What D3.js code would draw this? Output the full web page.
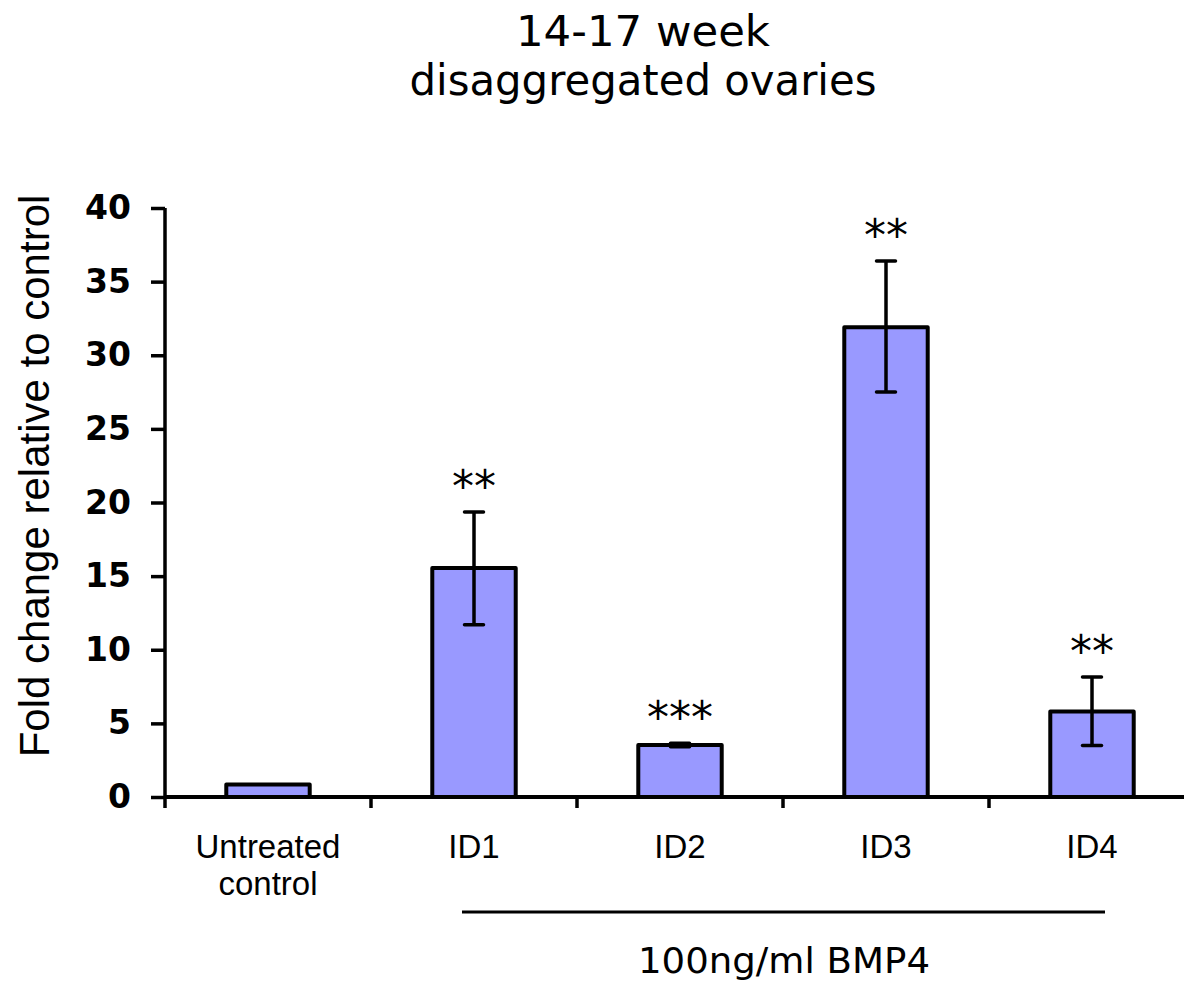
<!DOCTYPE html>
<html><head><meta charset="utf-8">
<script src="https://cdn.jsdelivr.net/npm/d3@7"></script>
<style>body{margin:0;background:#fff}</style>
</head><body>
<svg id="c" width="1184" height="981"></svg>
<script>
const categories = ["Untreated control", "ID1", "ID2", "ID3", "ID4"];
const values = [0.85, 15.55, 3.53, 31.9, 5.8];
const errLow = [null, 11.7, 3.42, 27.5, 3.5];
const errHigh = [null, 19.35, 3.65, 36.4, 8.15];
const stars = ["", "**", "***", "**", "**"];
const yTicks = [0, 5, 10, 15, 20, 25, 30, 35, 40];
const titleLines = ["14-17 week", "disaggregated ovaries"];
const yLabel = "Fold change relative to control";
const bracketLabel = "100ng/ml BMP4";

const svg = d3.select("#c");
const x0 = 165, yBase = 797;
const x = d3.scaleBand().domain(categories).range([x0, x0 + 206 * 5]).padding(0);
const y = d3.scaleLinear().domain([0, 40]).range([yBase, 208]);
const barW = x.bandwidth() * 0.405;

// title
const titleLen = [254, 467];
svg.append("g").selectAll("text").data(titleLines).join("text")
  .attr("x", 643).attr("y", (d, i) => 46 + i * 49)
  .attr("text-anchor", "middle")
  .attr("textLength", (d, i) => titleLen[i]).attr("lengthAdjust", "spacingAndGlyphs")
  .style("font-family", "DejaVu Sans").style("font-size", "43px").style("fill", "#000")
  .text(d => d);

// bars
svg.append("g").selectAll("rect").data(categories).join("rect")
  .attr("x", d => x(d) + x.bandwidth() / 2 - barW / 2)
  .attr("y", (d, i) => y(values[i]))
  .attr("width", barW)
  .attr("height", (d, i) => yBase - y(values[i]))
  .attr("fill", "#9999ff").attr("stroke", "#000").attr("stroke-width", 4)
  .attr("stroke-linejoin", "round");

// error bars
const eg = svg.append("g");
categories.forEach((c, i) => {
  if (errLow[i] == null) return;
  const cx = x(c) + x.bandwidth() / 2;
  eg.append("line").attr("x1", cx).attr("x2", cx).attr("y1", y(errLow[i])).attr("y2", y(errHigh[i]))
    .attr("stroke", "#000").attr("stroke-width", 3.5);
  [errLow[i], errHigh[i]].forEach(v => {
    eg.append("line").attr("x1", cx - 9.5).attr("x2", cx + 9.5).attr("y1", y(v)).attr("y2", y(v))
      .attr("stroke", "#000").attr("stroke-width", 3.5).attr("stroke-linecap", "round");
  });
});

// stars
svg.append("g").selectAll("text").data(categories).join("text")
  .attr("x", d => x(d) + x.bandwidth() / 2)
  .attr("y", (d, i) => y(errHigh[i] != null ? errHigh[i] : values[i]) - 31 + 21)
  .attr("text-anchor", "middle")
  .style("font-family", "DejaVu Sans").style("font-size", "44px").style("fill", "#000")
  .text((d, i) => stars[i]);

// y axis
const yAxis = svg.append("g").attr("transform", `translate(${x0},0)`)
  .call(d3.axisLeft(y).tickValues(yTicks).tickSize(14).tickPadding(20).tickFormat(d3.format("d")));
yAxis.select(".domain").attr("stroke-width", 3.5).attr("d", `M0,${y(40)}V${yBase}`);
yAxis.selectAll(".tick line").attr("stroke-width", 3.5);
yAxis.selectAll(".tick text").style("font-family", "DejaVu Sans").style("font-weight", "bold")
  .style("font-size", "33px").attr("fill", "#000");

// x axis
const xAxis = svg.append("g").attr("transform", `translate(0,${yBase})`)
  .call(d3.axisBottom(x).tickSize(0).tickFormat(""));
xAxis.select(".domain").attr("stroke-width", 4).attr("d", `M${x0},0H1184`);
xAxis.selectAll(".tick").remove();
const bounds = categories.map(c => x(c)).concat([x(categories[4]) + x.bandwidth()]);
xAxis.selectAll("line.sep").data(bounds).join("line").attr("class", "sep")
  .attr("x1", d => d).attr("x2", d => d).attr("y1", 0).attr("y2", 11)
  .attr("stroke", "#000").attr("stroke-width", 3.5);

// category labels
const cl = svg.append("g");
categories.forEach(c => {
  const words = c === "Untreated control" ? ["Untreated", "control"] : [c];
  words.forEach((w, j) => {
    cl.append("text").attr("x", x(c) + x.bandwidth() / 2).attr("y", 858 + j * 37)
      .attr("text-anchor", "middle")
      .style("font-family", "Liberation Sans").style("font-size", "33px").style("fill", "#000")
      .text(w);
  });
});

// y label
svg.append("text").attr("transform", `translate(49,476) rotate(-90)`)
  .attr("text-anchor", "middle")
  .style("font-family", "Liberation Sans").style("font-size", "42px").style("fill", "#000")
  .text(yLabel);

// bracket
svg.append("line").attr("x1", 462).attr("x2", 1105).attr("y1", 912).attr("y2", 912)
  .attr("stroke", "#000").attr("stroke-width", 3);
svg.append("text").attr("x", 784).attr("y", 973).attr("text-anchor", "middle")
  .attr("textLength", 292).attr("lengthAdjust", "spacingAndGlyphs")
  .style("font-family", "DejaVu Sans").style("font-size", "36px").style("fill", "#000")
  .text(bracketLabel);
</script>
</body></html>
